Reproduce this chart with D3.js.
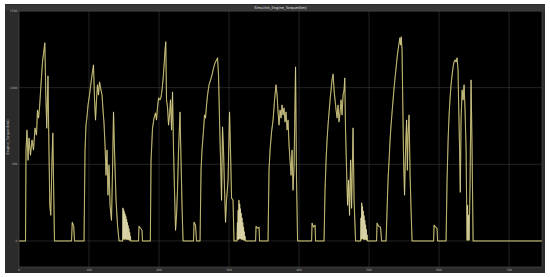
<!DOCTYPE html>
<html>
<head>
<meta charset="utf-8">
<script src="https://cdn.jsdelivr.net/npm/d3@7"></script>
<style>
  body { margin: 0; background: #fff; }
</style>
</head>
<body>
<div id="chart"></div>
<script>
// torque trace: [time s, torque Nm]
var cycle1 = [[0,0],[9.3,0],[10,593],[11.4,723],[12.9,527],[14.3,671],[16.4,560],[18.6,658],[20.7,593],
  [22.9,736],[25,691],[26.4,854],[27.9,802],[29.3,867],[31.4,1018],[33.6,1168],[36.9,1292],[38.3,952],
  [39.7,736],[41.4,1076],[42.6,658],[44,233],[45.4,168],[47.1,527],[48.3,704],[49.3,397],[50.7,0],
  [75,0],[76.1,122],[78.1,96],[79.3,0],[92.9,0]];

var cycle2 = [[94.3,593],[95.7,756],[97.1,809],[98.6,887],[100.7,952],[102.1,1005],[104.3,1083],
  [106.4,1148],[107.9,920],[109.3,789],[110.7,920],[112.1,1018],[113.6,952],[115,1037],[117.1,985],
  [118.6,952],[120,854],[121.4,769],[122.9,626],[124.3,429],[125.7,593],[127.1,299],[128.6,495],
  [130,233],[132.1,135],[133.6,462],[135,841],[136.4,593],[138.6,266],[140.7,103],[142.9,0],
  [148,0],[148.4,215],[148.9,10],[149.4,205],[149.9,15],[150.4,190],[150.9,10],[151.5,175],[152,15],
  [152.6,160],[153.1,10],[153.7,140],[154.2,10],[154.8,120],[155.3,10],[155.9,100],[156.4,10],
  [157,80],[157.5,5],[158.1,55],[158.6,5],[159.2,30],[159.6,0],
  [170.7,0],[171.4,96],[173.6,83],[175.7,70],[176.4,0],[187.6,0]];

var cycle3 = [[188.6,527],[190.7,736],[192.9,802],[195,835],[196.4,789],[197.9,874],[199.3,933],
  [201.4,920],[202.9,939],[204.3,985],[205.7,1050],[207.1,1135],[208.6,1246],[209.6,1299],[210.7,920],
  [212.1,874],[213.6,756],[215,822],[216.4,920],[217.9,724],[219.3,972],[220.7,593],[222.1,331],
  [223.6,70],[225,168],[226.4,331],[227.9,593],[230,841],[231.4,527],[232.9,220],[234.3,0],
  [249.3,0],[250,122],[252.1,103],[253.6,0],[258.6,0]];

var cycle4 = [[260,462],[261.4,593],[263.6,724],[265,822],[266.4,802],[267.9,887],[269.3,952],
  [271.4,1018],[273.6,1050],[275.7,1083],[277.9,1129],[280,1161],[282.1,1181],[283.6,1194],[285,1083],
  [286.4,789],[287.9,527],[289.3,266],[290.7,743],[292.1,593],[293.6,331],[295,122],[296.4,266],
  [298.6,397],[300.7,841],[302.1,593],[303.6,279],[305.7,266],[307.1,0],
  [311.4,0],[312,120],[312.5,10],[313,200],[313.5,10],[314.1,265],[314.6,15],[315.2,240],[315.7,15],
  [316.3,210],[316.8,15],[317.4,180],[317.9,10],[318.5,150],[319,10],[319.6,120],[320.1,10],
  [320.7,90],[321.2,5],[321.8,60],[322.3,5],[322.9,30],[323.5,0],
  [337.9,0],[338.6,96],[340.7,83],[342.9,90],[343.6,0],[355.7,0]];

var cycle5 = [[357.1,462],[358.6,593],[360.7,710],[362.9,789],[365,920],[367.1,1018],[368.6,952],
  [370,841],[371.4,756],[372.9,854],[374.3,802],[375.7,887],[377.1,822],[378.6,867],[380,776],
  [381.4,841],[382.9,724],[384.3,789],[385.7,626],[387.1,527],[388.6,429],[390,593],[391.4,331],
  [392.9,495],[395,1135],[396.4,397],[397.9,0],
  [417.9,0],[418.6,116],[420.7,90],[422.9,103],[423.6,0],[435.7,0]];

var cycle6 = [[437.1,331],[438.6,527],[440,658],[441.4,756],[442.9,841],[444.3,920],[445.7,985],
  [447.1,1050],[448.6,1089],[450,985],[451.4,920],[452.9,854],[454.3,802],[455.7,887],[457.1,776],
  [458.6,841],[460,920],[461.4,822],[462.9,952],[464.3,985],[465.3,1063],[466.4,724],[467.9,462],
  [469.3,233],[470.7,397],[472.1,168],[473.6,527],[475,214],[477.1,737],[478.6,266],[480.7,0],
  [487.9,0],[488.4,150],[488.9,10],[489.5,248],[490,15],[490.6,225],[491.1,15],[491.7,195],[492.2,10],
  [492.8,165],[493.3,10],[493.9,135],[494.4,10],[495,105],[495.5,10],[496.1,75],[496.6,5],
  [497.2,40],[497.9,0],
  [510.7,0],[511.4,116],[513.6,96],[516.4,90],[517.9,0],[524.3,0]];

var cycle7 = [[525.7,201],[527.1,397],[528.6,527],[530,658],[531.4,756],[532.9,841],[534.3,920],
  [535.7,998],[537.1,1063],[538.6,1129],[540,1194],[541.4,1246],[542.9,1292],[544,1325],[545,1279],
  [546,1331],[547.1,1246],[548.3,854],[549.3,527],[550.7,299],[552.1,593],[553.6,789],[554.7,462],
  [555.7,691],[557.1,822],[558.6,429],[560,201],[561.4,0],
  [592.1,0],[592.9,103],[595,90],[597.1,83],[597.9,0],[610,0]];

var cycle8 = [[611.4,397],[612.9,658],[614.3,822],[615.7,933],[617.1,1018],[618.6,1083],[620,1135],
  [621.4,1168],[622.9,1181],[624.3,1168],[625.7,1194],[627.1,1116],[628.1,854],[629.3,593],
  [630.3,318],[631.4,789],[632.9,985],[634.3,920],[635.7,1018],[637.1,854],[638.6,593],[639.3,266],
  [640,5],[640.7,233],[641.4,5],[642.1,168],[642.9,5],[644.3,397],[645.7,1050],[647.1,593],
  [648.6,0],[747,0]];

var xTicks = [0, 100, 200, 300, 400, 500, 600, 700];
var yTicks = [0, 500, 1000, 1500];

var titleText = "Simulink_Engine_Torque(Nm)";
var yLabelText = "Engine_Torque(Nm)";

var data = [].concat(cycle1, cycle2, cycle3, cycle4, cycle5, cycle6, cycle7, cycle8);

var width = 550, height = 277;
var frame = { left: 5, top: 4, right: 545, bottom: 273 };
var plot = { left: 19, top: 11, right: 542, bottom: 267 };

var svg = d3.select("#chart")
  .append("svg")
  .attr("width", width)
  .attr("height", height);

// figure background + title strip
svg.append("rect")
  .attr("x", frame.left).attr("y", frame.top)
  .attr("width", frame.right - frame.left).attr("height", frame.bottom - frame.top)
  .attr("fill", "#2b2b2b");

svg.append("rect")
  .attr("x", frame.left).attr("y", 5)
  .attr("width", frame.right - frame.left).attr("height", 5.5)
  .attr("fill", "#363636");

svg.append("rect")
  .attr("x", plot.left).attr("y", plot.top)
  .attr("width", plot.right - plot.left).attr("height", plot.bottom - plot.top)
  .attr("fill", "#000");

var x = d3.scaleLinear().domain([0, 747]).range([plot.left, plot.right]);
var y = d3.scaleLinear().domain([-170, 1500]).range([plot.bottom, plot.top]);

// grid
svg.selectAll(".vgrid")
  .data(xTicks.slice(1))
  .enter()
  .append("line")
  .attr("class", "vgrid")
  .attr("x1", function(d) { return x(d); })
  .attr("x2", function(d) { return x(d); })
  .attr("y1", plot.top)
  .attr("y2", plot.bottom)
  .attr("stroke", "#3a3a3a")
  .attr("stroke-width", 0.6);

svg.selectAll(".hgrid")
  .data(yTicks)
  .enter()
  .append("line")
  .attr("class", "hgrid")
  .attr("x1", plot.left)
  .attr("x2", plot.right)
  .attr("y1", function(d) { return y(d); })
  .attr("y2", function(d) { return y(d); })
  .attr("stroke", "#3a3a3a")
  .attr("stroke-width", 0.6);

// tick labels
svg.selectAll(".xlab")
  .data(xTicks)
  .enter()
  .append("text")
  .attr("class", "xlab")
  .attr("x", function(d) { return x(d); })
  .attr("y", 271)
  .attr("text-anchor", "middle")
  .attr("font-family", "DejaVu Sans, sans-serif")
  .attr("font-size", 3)
  .attr("fill", "#b0b0b0")
  .text(function(d) { return d; });

svg.selectAll(".ylab")
  .data(yTicks)
  .enter()
  .append("text")
  .attr("class", "ylab")
  .attr("x", 17.5)
  .attr("y", function(d) { return y(d) + 1; })
  .attr("text-anchor", "end")
  .attr("font-family", "DejaVu Sans, sans-serif")
  .attr("font-size", 3)
  .attr("fill", "#b0b0b0")
  .text(function(d) { return d; });

// signal
var line = d3.line()
  .x(function(d) { return x(d[0]); })
  .y(function(d) { return y(d[1]); });

svg.append("path")
  .datum(data)
  .attr("d", line)
  .attr("fill", "none")
  .attr("stroke", "#c8b83a")
  .attr("stroke-width", 1.1)
  .attr("stroke-opacity", 0.7)
  .attr("stroke-linejoin", "round");

svg.append("path")
  .datum(data)
  .attr("d", line)
  .attr("fill", "none")
  .attr("stroke", "#ebe6c6")
  .attr("stroke-width", 0.5)
  .attr("stroke-linejoin", "round");

// plot frame
svg.append("rect")
  .attr("x", plot.left).attr("y", plot.top)
  .attr("width", plot.right - plot.left).attr("height", plot.bottom - plot.top)
  .attr("fill", "none")
  .attr("stroke", "#505050")
  .attr("stroke-width", 0.6);

svg.append("text")
  .attr("x", (plot.left + plot.right) / 2)
  .attr("y", 9.3)
  .attr("text-anchor", "middle")
  .attr("font-family", "DejaVu Sans, sans-serif")
  .attr("font-size", 3.6)
  .attr("fill", "#e0e0e0")
  .text(titleText);

svg.append("text")
  .attr("transform", "translate(9,137) rotate(-90)")
  .attr("text-anchor", "middle")
  .attr("font-family", "DejaVu Sans, sans-serif")
  .attr("font-size", 3.6)
  .attr("fill", "#b0b0b0")
  .text(yLabelText);
</script>
</body>
</html>
